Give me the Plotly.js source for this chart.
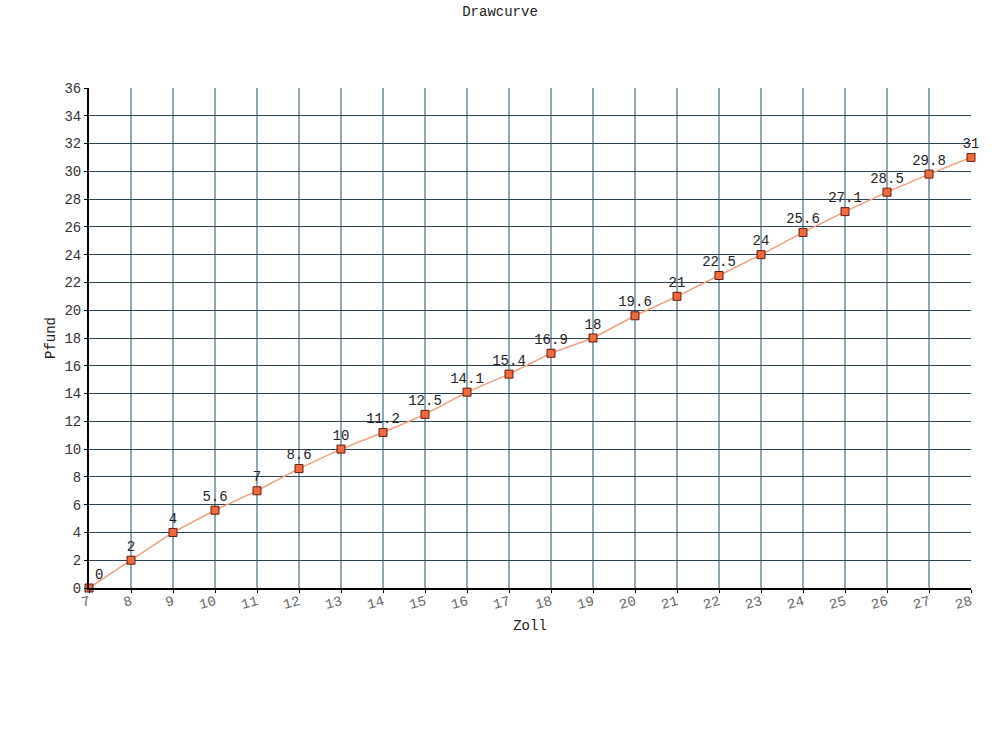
<!DOCTYPE html>
<html><head><meta charset="utf-8">
<script src="https://cdn.plot.ly/plotly-3.0.1.min.js"></script>
<style>html,body{margin:0;padding:0;background:#fff}</style>
</head><body>
<div id="chart" style="width:1000px;height:735px"></div>
<script>
var zoll = [7,8,9,10,11,12,13,14,15,16,17,18,19,20,21,22,23,24,25,26,27,28];
var pfund = [0,2,4,5.6,7,8.6,10,11.2,12.5,14.1,15.4,16.9,18,19.6,21,22.5,24,25.6,27.1,28.5,29.8,31];
var labels = pfund.map(function(v){return String(v);});
var positions = pfund.map(function(v, i){return i === 0 ? 'top right' : 'top center';});
var font = "Liberation Mono, Courier New, monospace";
var trace = {
  x: zoll, y: pfund, mode: 'lines+markers+text', type: 'scatter',
  text: labels, textposition: positions,
  textfont: {family: font, size: 14, color: '#222'},
  line: {color: '#f0a080', width: 1.5},
  marker: {symbol: 'square', size: 8, color: '#f06a40', line: {color: '#5a2010', width: 1}},
  cliponaxis: false, hoverinfo: 'x+y'
};
var layout = {
  width: 1000, height: 735,
  margin: {l: 89, r: 29, t: 88, b: 147},
  paper_bgcolor: '#fff', plot_bgcolor: '#fff',
  showlegend: false,
  font: {family: font, size: 14, color: '#333'},
  title: {text: 'Drawcurve', x: 0.5, xanchor: 'center', y: 0.992, yanchor: 'top', font: {family: font, size: 14, color: '#222'}},
  xaxis: {
    range: [7, 28], dtick: 1, tick0: 7, tickangle: -15,
    showgrid: true, gridcolor: '#93a8b2', gridwidth: 1.5,
    showline: true, linecolor: '#000', linewidth: 2,
    ticks: 'outside', ticklen: 3, tickcolor: '#000',
    ticklabelstandoff: -5,
    zeroline: false,
    tickfont: {family: font, size: 14, color: '#666'},
    title: {text: 'Zoll', font: {family: font, size: 14, color: '#222'}, standoff: 8}
  },
  yaxis: {
    range: [0, 36], dtick: 2, tick0: 0,
    showgrid: true, gridcolor: '#2c4654', gridwidth: 1,
    showline: true, linecolor: '#000', linewidth: 2,
    ticks: 'outside', ticklen: 3, tickcolor: '#000',
    zeroline: false,
    tickfont: {family: font, size: 14, color: '#333'},
    title: {text: 'Pfund', font: {family: font, size: 14, color: '#222'}, standoff: 5}
  }
};
Plotly.newPlot('chart', [trace], layout, {displayModeBar: false, staticPlot: true});
</script>
</body></html>
